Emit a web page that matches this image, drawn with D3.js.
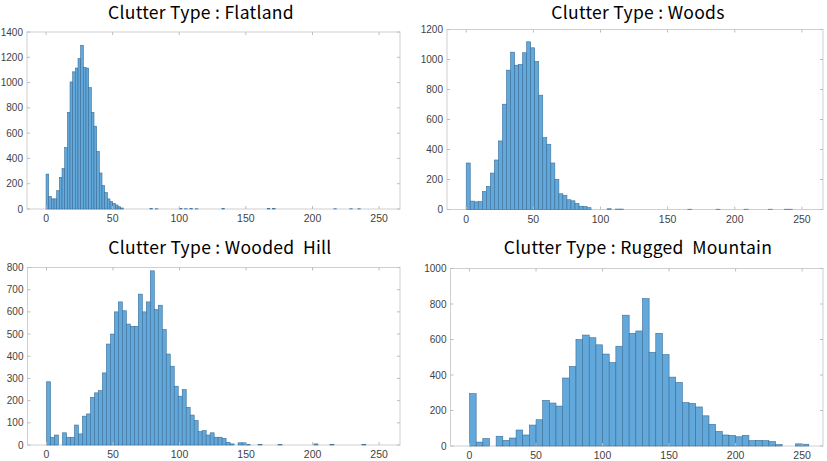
<!DOCTYPE html>
<html>
<head>
<meta charset="utf-8">
<script src="https://cdn.jsdelivr.net/npm/d3@7"></script>
<style>
  body { margin: 0; background: #fff; }
  svg { display: block; }
</style>
</head>
<body>
<svg id="chart" width="827" height="461"></svg>
<script>
// bin counts (bins start at 0)
const xTicks = [0, 50, 100, 150, 200, 250];

const flatTitle = "Clutter Type : Flatland";
const flatWidth = 2;
const flatCounts = [276, 100, 80, 80, 145, 250, 320, 485, 765, 1005, 1085, 1115, 1190, 1295,
  1120, 1115, 960, 765, 655, 455, 285, 185, 130, 80, 60, 45, 32, 18, 8];
const flatOutliers = [[78, 3], [82, 2], [100, 3], [104, 2], [108, 3], [112, 2], [132, 3],
  [166, 3], [170, 3], [216, 2], [228, 2], [234, 2]];
const flatYTicks = [0, 200, 400, 600, 800, 1000, 1200, 1400];

const woodsTitle = "Clutter Type : Woods";
const woodsWidth = 3;
const woodsCounts = [310, 56, 51, 53, 120, 154, 243, 330, 457, 702, 929, 1049, 962, 967, 1045,
  1118, 1078, 987, 762, 479, 435, 310, 200, 105, 95, 65, 58, 40, 22, 20, 12];
const woodsOutliers = [[105, 5], [111, 3], [114, 3], [165, 2], [186, 2], [207, 2], [225, 2],
  [237, 2], [240, 2]];
const woodsYTicks = [0, 200, 400, 600, 800, 1000, 1200];

const hillTitle = "Clutter Type : Wooded  Hill";
const hillWidth = 3;
const hillCounts = [285, 35, 45, 0, 55, 35, 35, 90, 50, 130, 140, 215, 235, 245, 325, 455, 500,
  600, 645, 605, 545, 535, 535, 680, 600, 645, 785, 610, 630, 520, 410, 355, 265, 220, 250,
  170, 135, 110, 60, 65, 45, 55, 35, 35, 30, 12, 5, 0, 10, 10, 3];
const hillOutliers = [[159, 2], [174, 2], [201, 5], [213, 2], [237, 2]];
const hillYTicks = [0, 100, 200, 300, 400, 500, 600, 700, 800];

const rugTitle = "Clutter Type : Rugged  Mountain";
const rugWidth = 5;
const rugCounts = [295, 22, 42, 0, 55, 32, 45, 90, 62, 118, 148, 257, 242, 225, 383, 448, 600,
  625, 610, 570, 518, 470, 562, 737, 635, 648, 830, 528, 635, 515, 388, 358, 245, 240, 220,
  170, 122, 82, 62, 60, 52, 60, 30, 32, 30, 25, 8, 0, 0, 12, 10];
const rugOutliers = [];
const rugYTicks = [0, 200, 400, 600, 800, 1000];

const svg = d3.select("#chart");

function drawPanel(title, titleX, titleY, box, width, counts, outliers, yTicks) {
  const x = d3.scaleLinear().domain([-14.3, 265.7]).range([box.left, box.right]);
  const y = d3.scaleLinear().domain([0, d3.max(yTicks)]).range([box.bottom, box.top]);
  const g = svg.append("g");

  // frame
  g.append("rect")
    .attr("x", box.left).attr("y", box.top)
    .attr("width", box.right - box.left).attr("height", box.bottom - box.top)
    .attr("fill", "#fff").attr("stroke", "#cfcfcf").attr("stroke-width", 1);

  const bins = counts.map((c, i) => ({ x0: i * width, c: c }))
    .concat(outliers.map(o => ({ x0: o[0], c: o[1] })))
    .filter(d => d.c > 0);

  g.selectAll("rect.bar")
    .data(bins)
    .enter()
    .append("rect")
    .attr("class", "bar")
    .attr("x", d => x(d.x0))
    .attr("y", d => y(d.c))
    .attr("width", d => x(d.x0 + width) - x(d.x0))
    .attr("height", d => y(0) - y(d.c))
    .attr("fill", "#62a8db")
    .attr("stroke", "#3b6f98")
    .attr("stroke-width", 0.6);

  // ticks, inside, on all four sides
  const tk = 3;
  xTicks.forEach(t => {
    g.append("line").attr("x1", x(t)).attr("x2", x(t)).attr("y1", box.bottom).attr("y2", box.bottom - tk)
      .attr("stroke", "#bdbdbd");
    g.append("line").attr("x1", x(t)).attr("x2", x(t)).attr("y1", box.top).attr("y2", box.top + tk)
      .attr("stroke", "#bdbdbd");
    g.append("text").attr("x", x(t)).attr("y", box.bottom + 13)
      .attr("text-anchor", "middle").attr("font-family", "Liberation Sans, Arial, sans-serif")
      .attr("font-size", 10.5).attr("fill", "#3f3f3f").text(t);
  });
  yTicks.forEach(t => {
    g.append("line").attr("x1", box.left).attr("x2", box.left + tk).attr("y1", y(t)).attr("y2", y(t))
      .attr("stroke", "#bdbdbd");
    g.append("line").attr("x1", box.right).attr("x2", box.right - tk).attr("y1", y(t)).attr("y2", y(t))
      .attr("stroke", "#bdbdbd");
    g.append("text").attr("x", box.left - 4).attr("y", y(t) + 3.5)
      .attr("text-anchor", "end").attr("font-family", "Liberation Sans, Arial, sans-serif")
      .attr("font-size", 10).attr("fill", "#3f3f3f").text(t);
  });

  g.append("text")
    .attr("x", titleX).attr("y", titleY)
    .attr("text-anchor", "middle")
    .attr("font-family", "Noto Sans CJK KR, Noto Sans, sans-serif")
    .attr("font-size", 17.5)
    .attr("letter-spacing", 0.3)
    .attr("fill", "#000")
    .style("white-space", "pre")
    .text(title);
}

drawPanel(flatTitle, 201, 19, { left: 27, right: 400, top: 32, bottom: 209 },
  flatWidth, flatCounts, flatOutliers, flatYTicks);
drawPanel(woodsTitle, 638, 19, { left: 447, right: 823, top: 29.5, bottom: 209.5 },
  woodsWidth, woodsCounts, woodsOutliers, woodsYTicks);
drawPanel(hillTitle, 220, 254, { left: 27.5, right: 400, top: 267.5, bottom: 445 },
  hillWidth, hillCounts, hillOutliers, hillYTicks);
drawPanel(rugTitle, 638, 254, { left: 450.5, right: 823, top: 268.5, bottom: 446 },
  rugWidth, rugCounts, rugOutliers, rugYTicks);
</script>
</body>
</html>
